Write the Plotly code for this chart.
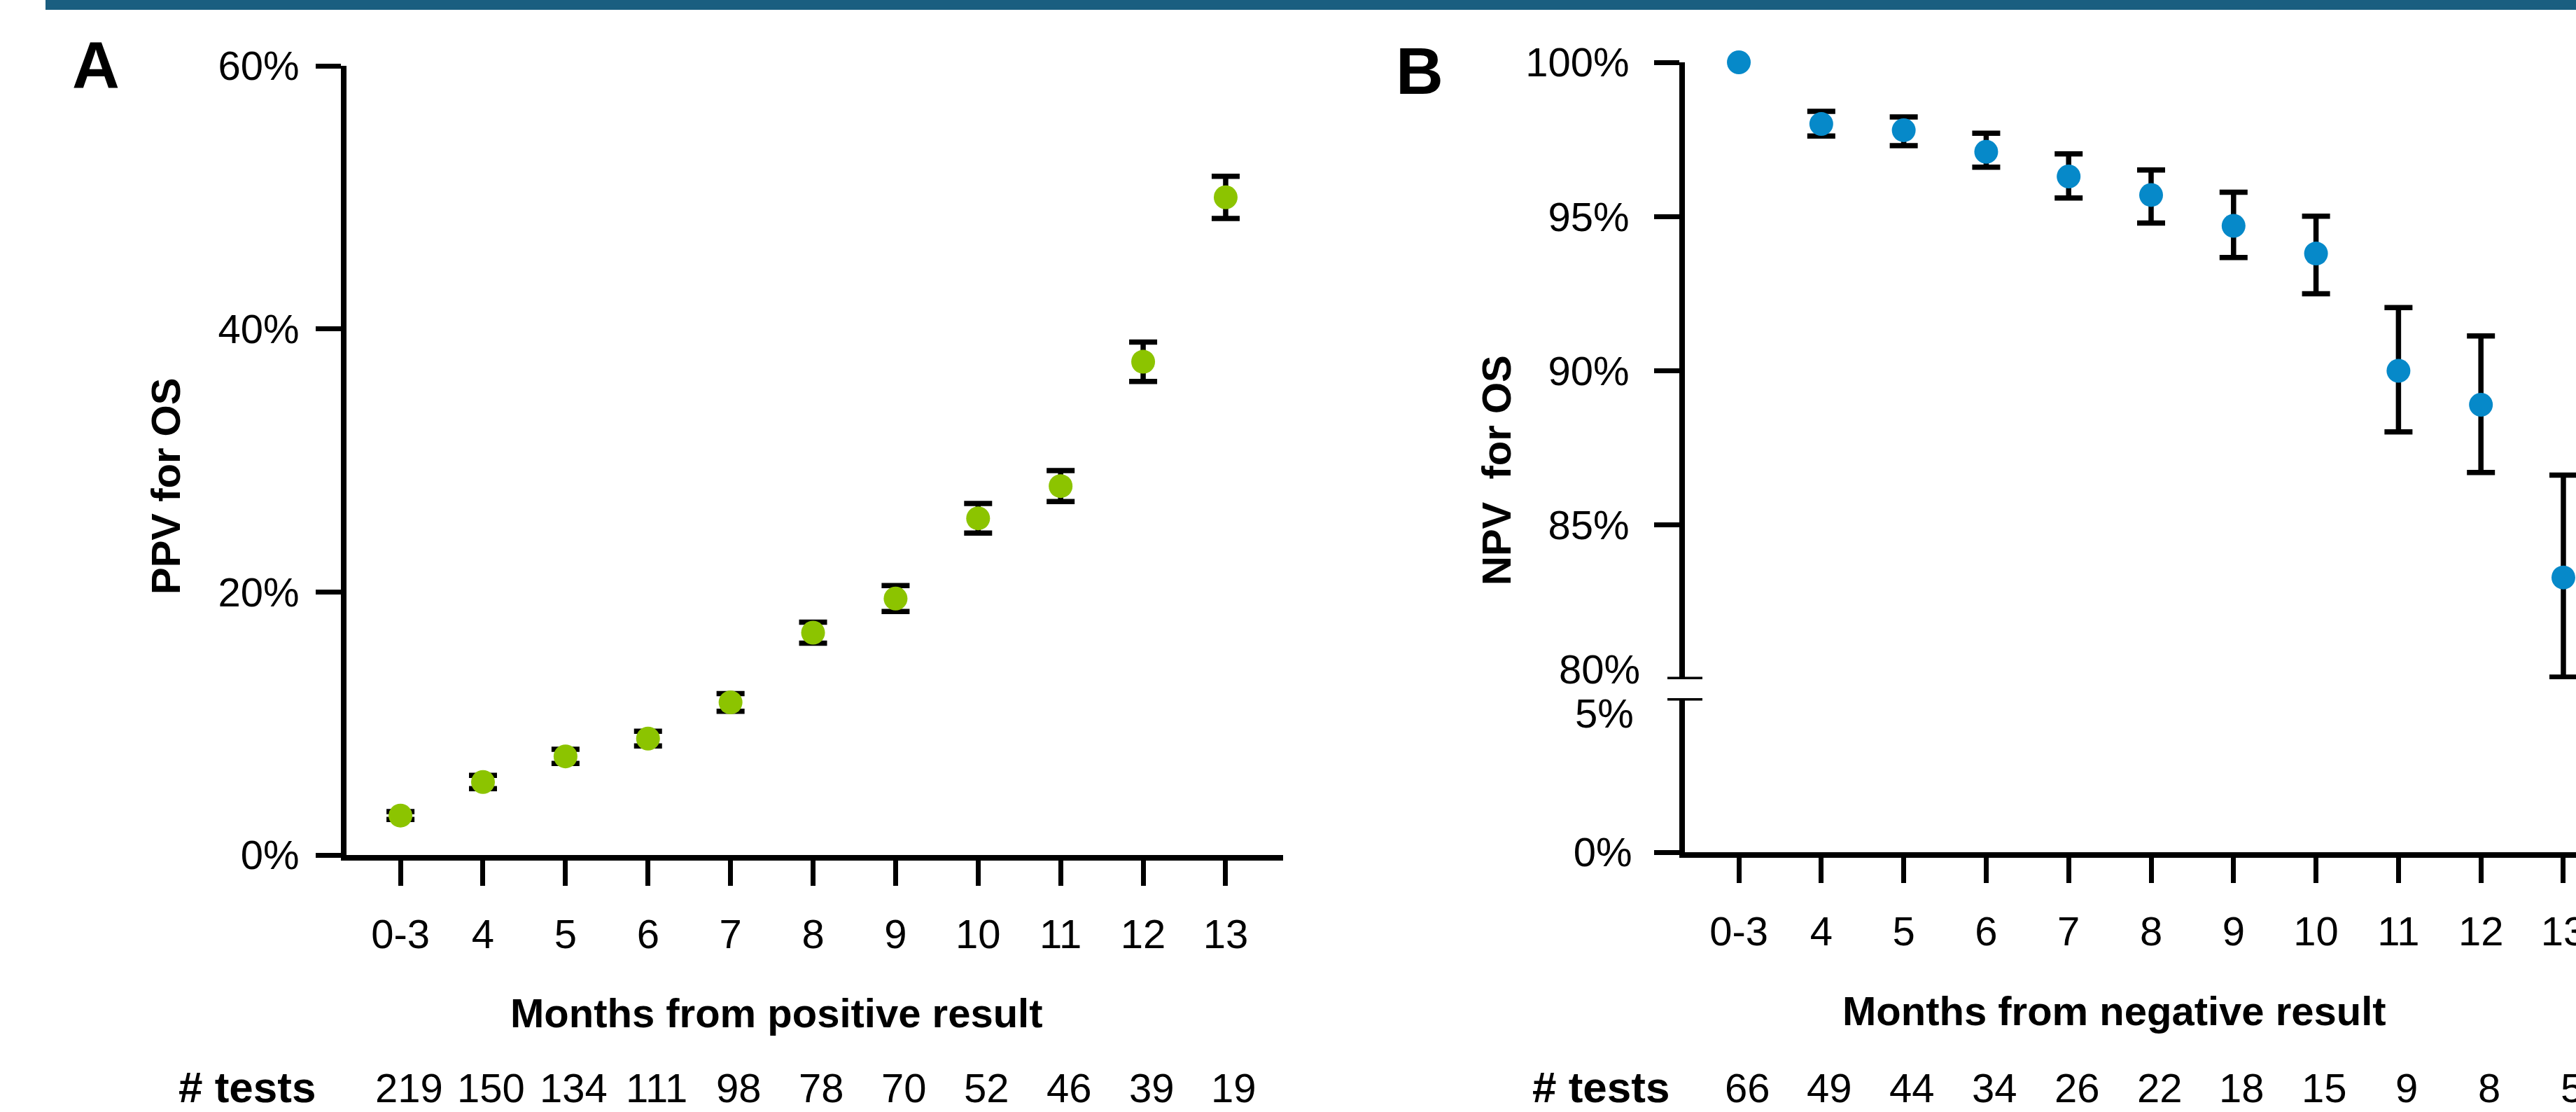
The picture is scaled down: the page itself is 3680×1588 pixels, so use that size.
import plotly.graph_objects as go
import math

W, H = 3680, 1588
FONT = "Liberation Sans, Arial, sans-serif"

# ---------------- data ----------------
months = ["0-3", "4", "5", "6", "7", "8", "9", "10", "11", "12", "13"]

ppv = [3.0, 5.55, 7.5, 8.85, 11.6, 16.9, 19.5, 25.6, 28.05, 37.5, 50.0]
ppv_err = [0.3, 0.5, 0.54, 0.56, 0.67, 0.8, 0.98, 1.13, 1.18, 1.5, 1.6]
ppv_tests = [219, 150, 134, 111, 98, 78, 70, 52, 46, 39, 19]

npv = [100.0, 98.0, 97.8, 97.1, 96.3, 95.7, 94.7, 93.8, 90.0, 88.9, 83.3]
npv_err_plus = [math.nan, 0.41, 0.43, 0.6, 0.73, 0.81, 1.09, 1.21, 2.05, 2.23, 3.32]
npv_err_minus = [math.nan, 0.39, 0.5, 0.5, 0.7, 0.91, 1.03, 1.3, 1.98, 2.2, 3.23]
npv_tests = [66, 49, 44, 34, 26, 22, 18, 15, 9, 8, 5]

ppv_ticks = [0, 20, 40, 60]
npv_ticks_upper = [85, 90, 95, 100]
npv_ticks_lower = [0]

GREEN = "#8cc400"
BLUE = "#0689c9"
BAR = "#1a5e80"


def fx(px):
    return px / W


def fy(py):
    return 1 - py / H


fig = go.Figure()

err_style = dict(color="black", thickness=7.5, width=20)

fig.add_trace(go.Scatter(
    x=months, y=ppv, mode="markers", xaxis="x", yaxis="y",
    marker=dict(size=34, color=GREEN, line=dict(width=0)),
    error_y=dict(type="data", array=ppv_err, visible=True, **err_style),
    cliponaxis=False, showlegend=False))

# panel B: points with a confidence interval, and points without one
has_ci = [not math.isnan(e) for e in npv_err_plus]
fig.add_trace(go.Scatter(
    x=[m for m, h in zip(months, has_ci) if h],
    y=[v for v, h in zip(npv, has_ci) if h],
    mode="markers", xaxis="x2", yaxis="y2",
    marker=dict(size=34, color=BLUE, line=dict(width=0)),
    error_y=dict(type="data", symmetric=False,
                 array=[e for e, h in zip(npv_err_plus, has_ci) if h],
                 arrayminus=[e for e, h in zip(npv_err_minus, has_ci) if h],
                 visible=True, **err_style),
    cliponaxis=False, showlegend=False))
fig.add_trace(go.Scatter(
    x=[m for m, h in zip(months, has_ci) if not h],
    y=[v for v, h in zip(npv, has_ci) if not h],
    mode="markers", xaxis="x2", yaxis="y2",
    marker=dict(size=34, color=BLUE, line=dict(width=0)),
    cliponaxis=False, showlegend=False))

# invisible traces to register all categories on both B x axes
fig.add_trace(go.Scatter(x=months, y=npv, mode="none", xaxis="x2", yaxis="y2",
                         showlegend=False, hoverinfo="skip"))
fig.add_trace(go.Scatter(x=months, y=npv, mode="none", xaxis="x3", yaxis="y3",
                         showlegend=False, hoverinfo="skip"))

tickfont = dict(family=FONT, size=58, color="black")
axis_common = dict(showgrid=False, zeroline=False, showline=True, linecolor="black",
                   linewidth=7.5, ticks="outside", tickcolor="black",
                   tickfont=tickfont, ticklen=36)

rangeA = [-0.654, 10.696]
rangeB = [-0.654, 10.153]

fig.update_layout(
    width=W, height=H,
    margin=dict(l=0, r=0, t=0, b=0, pad=0, autoexpand=False),
    paper_bgcolor="white", plot_bgcolor="white",
    font=dict(family=FONT, color="black"),
    xaxis=dict(domain=[fx(495), fx(1833)], anchor="y", type="category",
               categoryorder="array", categoryarray=months,
               range=rangeA, tickwidth=7, ticklabelstandoff=20, **axis_common),
    yaxis=dict(domain=[fy(1221), fy(94)], anchor="x", range=[0, 60],
               tickvals=ppv_ticks, ticktext=[f"{v}%" for v in ppv_ticks],
               tickwidth=6.5, ticklabelstandoff=12, **axis_common),
    xaxis2=dict(domain=[fx(2407), 1.0], anchor="y2", type="category", range=rangeB,
                categoryorder="array", categoryarray=months,
                showline=False, showticklabels=False, ticks="", showgrid=False,
                zeroline=False),
    yaxis2=dict(domain=[fy(970), fy(89)], anchor="x2", range=[80, 100],
                tickvals=npv_ticks_upper, ticktext=[f"{v}%" for v in npv_ticks_upper],
                tickwidth=6.5, ticklabelstandoff=24, **axis_common),
    xaxis3=dict(domain=[fx(2407), 1.0], anchor="y3", type="category", range=rangeB,
                categoryorder="array", categoryarray=months,
                tickwidth=7, ticklabelstandoff=20, ticklabeloverflow="allow",
                **axis_common),
    yaxis3=dict(domain=[fy(1217), fy(997)], anchor="x3", range=[0, 5],
                tickvals=npv_ticks_lower, ticktext=[f"{v}%" for v in npv_ticks_lower],
                tickwidth=6.5, ticklabelstandoff=20, **axis_common),
)

shapes = [
    # top banner
    dict(type="rect", xref="paper", yref="paper", x0=fx(65), x1=1.0, y0=fy(14), y1=1.0,
         fillcolor=BAR, line=dict(width=0), layer="above"),
    # axis break marks
    dict(type="line", xref="x2 domain", yref="y2", x0=-25 / 1273, x1=25 / 1273, y0=80, y1=80,
         line=dict(color="black", width=7)),
    dict(type="line", xref="x3 domain", yref="y3", x0=-25 / 1273, x1=25 / 1273, y0=5, y1=5,
         line=dict(color="black", width=7)),
]
fig.update_layout(shapes=shapes)

ann = []
normal = dict(family=FONT, size=58, color="black")
tests_font = dict(family=FONT, size=62, color="black")

# panel letters
ann.append(dict(text="<b>A</b>", x=fx(137), y=fy(94), xref="paper", yref="paper",
                showarrow=False, font=dict(family=FONT, size=94, color="black"),
                xanchor="center", yanchor="middle"))
ann.append(dict(text="<b>B</b>", x=fx(2028), y=fy(101), xref="paper", yref="paper",
                showarrow=False, font=dict(family=FONT, size=94, color="black"),
                xanchor="center", yanchor="middle"))

# axis titles
ann.append(dict(text="<b>PPV for OS</b>", x=fx(236), y=fy(695), xref="paper", yref="paper",
                textangle=-90, showarrow=False, font=normal,
                xanchor="center", yanchor="middle"))
ann.append(dict(text="<b>NPV \u00a0for OS</b>", x=fx(2138), y=fy(672), xref="paper", yref="paper",
                textangle=-90, showarrow=False, font=normal,
                xanchor="center", yanchor="middle"))
ann.append(dict(text="<b>Months from positive result</b>", x=fx(1109), y=fy(1446),
                xref="paper", yref="paper", showarrow=False, font=normal,
                xanchor="center", yanchor="middle"))
ann.append(dict(text="<b>Months from negative result</b>", x=fx(3020), y=fy(1443),
                xref="paper", yref="paper", showarrow=False, font=normal,
                xanchor="center", yanchor="middle"))

# broken-axis tick labels
ann.append(dict(text="80%", x=fx(2345), y=fy(955), xref="paper", yref="paper",
                showarrow=False, font=normal, xanchor="right", yanchor="middle"))
ann.append(dict(text="5%", x=fx(2336), y=fy(1018), xref="paper", yref="paper",
                showarrow=False, font=normal, xanchor="right", yanchor="middle"))

# "# tests" rows (kept inside the bottom edge)
ann.append(dict(text="<b># tests</b>", x=fx(452), y=0, xref="paper", yref="paper",
                showarrow=False, font=tests_font, xanchor="right", yanchor="bottom",
                borderpad=0))
ann.append(dict(text="<b># tests</b>", x=fx(2386), y=0, xref="paper", yref="paper",
                showarrow=False, font=tests_font, xanchor="right", yanchor="bottom",
                borderpad=0))
for i, n in enumerate(ppv_tests):
    ann.append(dict(text=str(n), x=i, y=0, xref="x", yref="paper", xshift=12,
                    showarrow=False, font=normal, xanchor="center", yanchor="bottom",
                    borderpad=0, yshift=1))
for i, n in enumerate(npv_tests):
    ann.append(dict(text=str(n), x=i, y=0, xref="x3", yref="paper", xshift=12,
                    showarrow=False, font=normal, xanchor="center", yanchor="bottom",
                    borderpad=0, yshift=1))

fig.update_layout(annotations=ann)

fig.write_html("out.html",
               config={"displayModeBar": False},
               post_script="document.body.style.margin='0px';document.body.style.padding='0px';"
                           "document.body.style.overflow='hidden';")
